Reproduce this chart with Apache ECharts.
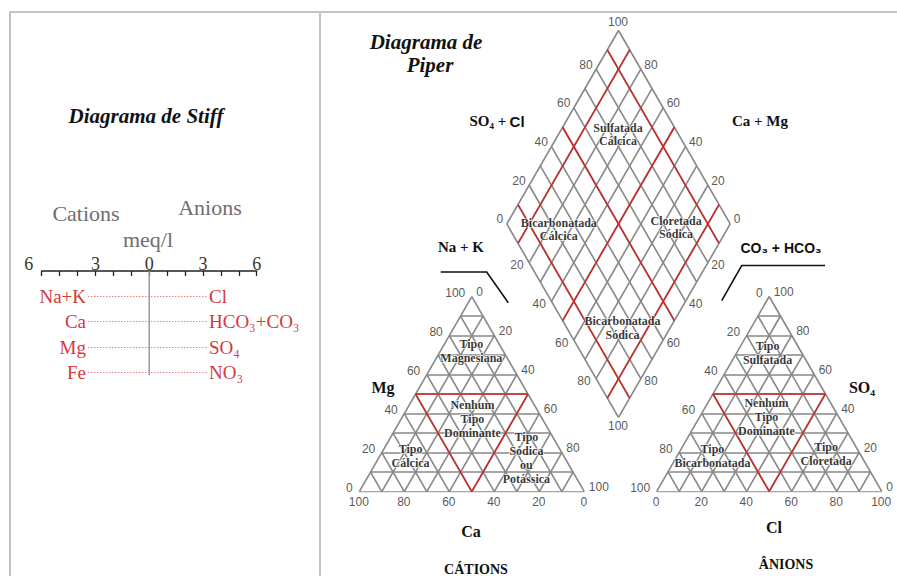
<!DOCTYPE html>
<html><head><meta charset="utf-8">
<script src="https://cdn.jsdelivr.net/npm/echarts@6/dist/echarts.min.js"></script>
<style>html,body{margin:0;padding:0;background:#fff}#c{width:897px;height:576px}</style>
</head><body><div id="c"></div>
<script>
// ---------- DATA ----------
const stiffScaleMax = 6;          // meq/l on each side
const stiffTickStep = 1;
const stiffLabelStep = 3;
const stiffCenter = 0;
const cations = ['Na+K', 'Ca', 'Mg', 'Fe'];
const anions = ['Cl', 'HCO₃+CO₃', 'SO₄', 'NO₃'];
const percentTicks = [0, 20, 40, 60, 80, 100];
const gridLevels = [0, 10, 20, 30, 40, 50, 60, 70, 80, 90, 100];
const triangleDivisions = [50];
const diamondDivisions = [10, 50, 90];
const cationTypes = ['Tipo\nMagnesiana', 'Nenhum\nTipo\nDominante', 'Tipo\nCálcica', 'Tipo\nSódica\nou\nPotássica'];
const anionTypes = ['Tipo\nSulfatada', 'Nenhum\nTipo\nDominante', 'Tipo\nBicarbonatada', 'Tipo\nCloretada'];
const diamondTypes = ['Sulfatada\nCálcica', 'Bicarbonatada\nCálcica', 'Cloretada\nSódica', 'Bicarbonatada\nSódica'];

// ---------- LAYOUT (label anchor positions in ternary %) ----------
const cationTypePos = [[72, 14], [37, 32], [18, 14], [17, 66]];   // [Mg, Na+K]
const anionTypePos = [[71, 14], [38, 30], [18, 16], [19, 66]];    // [SO4, Cl]
const diamondTypePos = [[73, 27], [22, 25], [75, 77], [25, 79]];  // [SO4+Cl, Na+K]

const H = Math.sqrt(3) / 2;
const GRAY = '#878787', RED = '#c62d2a', TXTRED = '#d3393d';
const SERIF = '"Liberation Serif", "Times New Roman", serif';
const SANS = '"Liberation Sans", Arial, sans-serif';

const cat = (mg, nak) => [nak + mg / 2, mg * H];
const an = (so4, cl) => [cl + so4 / 2, so4 * H];
const dia = (a, b) => [(a + b) / 2, (a - b) * H];

function triLines(f, levels) {
  const out = [];
  levels.filter(k => k < 100).forEach(k => {
    out.push({ coords: [f(k, 0), f(k, 100 - k)] });
    out.push({ coords: [f(0, k), f(100 - k, k)] });
    out.push({ coords: [f(0, 100 - k), f(100 - k, 0)] });
  });
  return out;
}
function diaLines(levels) {
  const out = [];
  levels.forEach(k => {
    out.push({ coords: [dia(k, 0), dia(k, 100)] });
    out.push({ coords: [dia(0, k), dia(100, k)] });
  });
  return out;
}
function linesSeries(i, data, color, z) {
  return { type: 'lines', coordinateSystem: 'cartesian2d', xAxisIndex: i, yAxisIndex: i, data,
    silent: true, z, lineStyle: { color, width: 1.6, opacity: 1 } };
}
const tickFont = { fontFamily: SANS, fontSize: 12, color: '#2a2a2a' };
const typeFont = { fontFamily: SERIF, fontSize: 12, fontWeight: 'bold', color: '#000',
  lineHeight: 14, textBorderColor: '#fff', textBorderWidth: 1.5 };
function labelSeries(i, items, font) {
  return { type: 'scatter', xAxisIndex: i, yAxisIndex: i, symbolSize: 1, silent: true, z: 10,
    itemStyle: { color: 'rgba(0,0,0,0)' },
    data: items.map(it => ({ value: it.pos, name: String(it.text),
      label: Object.assign({ show: true, formatter: '{b}', position: it.off, align: it.align,
        verticalAlign: 'middle' }, font) })) };
}

// tick labels
const catTicks = [].concat(
  percentTicks.map(v => ({ pos: cat(v, 0), text: v, off: [-6, -3], align: 'right' })),
  percentTicks.map(v => ({ pos: cat(100 - v, v), text: v, off: [5, -4], align: 'left' })),
  percentTicks.map(v => ({ pos: cat(0, 100 - v), text: v, off: [0, 11], align: 'center' }))
);
const anTicks = [].concat(
  percentTicks.map(v => ({ pos: an(100 - v, 0), text: v, off: [-6, -3], align: 'right' })),
  percentTicks.map(v => ({ pos: an(v, 100 - v), text: v, off: [5, -4], align: 'left' })),
  percentTicks.map(v => ({ pos: an(0, v), text: v, off: [0, 11], align: 'center' }))
);
const diaTicks = [].concat(
  percentTicks.map(v => v === 100 ? { pos: dia(v, 0), text: v, off: [0, -8], align: 'center' }
                                   : { pos: dia(v, 0), text: v, off: [-3, -4], align: 'right' }),
  percentTicks.filter(v => v < 100).map(v => ({ pos: dia(100, 100 - v), text: v, off: [4, -4], align: 'left' })),
  percentTicks.filter(v => v > 0).map(v => v === 100 ? { pos: dia(0, v), text: v, off: [0, 9], align: 'center' }
                                   : { pos: dia(0, v), text: v, off: [-5, 3], align: 'right' }),
  percentTicks.filter(v => v > 0 && v < 100).map(v => ({ pos: dia(100 - v, 100), text: v, off: [4, 3], align: 'left' }))
);
const catTypeItems = cationTypes.map((t, i) => ({ pos: cat(cationTypePos[i][0], cationTypePos[i][1]), text: t, off: [0, 0], align: 'center' }));
const anTypeItems = anionTypes.map((t, i) => ({ pos: an(anionTypePos[i][0], anionTypePos[i][1]), text: t, off: [0, 0], align: 'center' }));
const diaTypeItems = diamondTypes.map((t, i) => ({ pos: dia(diamondTypePos[i][0], diamondTypePos[i][1]), text: t, off: [0, 0], align: 'center' }));

function txt(text, x, y, font, fill, extra) {
  return { type: 'text', silent: true, z: 20, style: Object.assign({ text, x, y, font, fill: fill || '#111',
    align: 'center', verticalAlign: 'middle' }, extra || {}) };
}
const boldSerif = s => 'bold ' + s + 'px ' + SERIF;

const chart = echarts.init(document.getElementById('c'), null, { renderer: 'svg' });
chart.setOption({
  animation: false,
  backgroundColor: '#fff',
  grid: [
    { left: 41.7, top: 271, width: 215, height: 104 },
    { left: 88, top: 296, width: 119, height: 76.7 },
    { left: 359.3, top: 296.7, width: 225, height: 194.86 },
    { left: 656.7, top: 296.5, width: 225, height: 194.86 },
    { left: 506.8, top: 30.5, width: 223.4, height: 386.9 }
  ],
  xAxis: [
    { gridIndex: 0, type: 'value', position: 'top', min: -stiffScaleMax, max: stiffScaleMax, interval: stiffTickStep,
      axisLine: { show: true, onZero: false, lineStyle: { color: '#222', width: 1.5 } },
      axisTick: { show: true, inside: true, length: 5, lineStyle: { color: '#222', width: 1.3 } },
      splitLine: { show: false },
      axisLabel: { margin: -2, fontFamily: SERIF, fontSize: 18, color: '#333',
        formatter: v => v === -stiffScaleMax ? '{m|' + stiffScaleMax + '}' : (v % stiffLabelStep === 0 ? String(Math.abs(v)) : ''),
        rich: { m: { fontFamily: SERIF, fontSize: 18, color: '#333', padding: [0, 26, 0, 0] } } } },
    { gridIndex: 1, type: 'value', min: 0, max: 1, show: false },
    { gridIndex: 2, type: 'value', min: 0, max: 100, show: false },
    { gridIndex: 3, type: 'value', min: 0, max: 100, show: false },
    { gridIndex: 4, type: 'value', min: 0, max: 100, show: false }
  ],
  yAxis: [
    { gridIndex: 0, type: 'value', min: 0, max: 1, show: false },
    { gridIndex: 1, type: 'category', data: cations, inverse: true, boundaryGap: false, position: 'left',
      axisLine: { show: false }, axisTick: { show: false },
      axisLabel: { margin: 2, fontFamily: SERIF, fontSize: 19, color: TXTRED },
      splitLine: { show: true, lineStyle: { type: [1.5, 1.5], color: '#e08585', width: 1 } } },
    { gridIndex: 2, type: 'value', min: 0, max: 100 * H, show: false },
    { gridIndex: 3, type: 'value', min: 0, max: 100 * H, show: false },
    { gridIndex: 4, type: 'value', min: -100 * H, max: 100 * H, show: false },
    { gridIndex: 1, type: 'category', data: anions, inverse: true, boundaryGap: false, position: 'right',
      axisLine: { show: false }, axisTick: { show: false },
      axisLabel: { margin: 2, fontFamily: SERIF, fontSize: 19, color: TXTRED },
      splitLine: { show: false } }
  ],
  series: [
    { type: 'line', xAxisIndex: 0, yAxisIndex: 0, data: [[stiffCenter, 0], [stiffCenter, 1]], symbol: 'none',
      silent: true, lineStyle: { color: '#9a9a9a', width: 1.5 } },
    // cation triangle
    linesSeries(2, triLines(cat, gridLevels), GRAY, 2),
    linesSeries(2, triLines(cat, triangleDivisions), RED, 3),
    labelSeries(2, catTicks, tickFont),
    labelSeries(2, catTypeItems, typeFont),
    // anion triangle
    linesSeries(3, triLines(an, gridLevels), GRAY, 2),
    linesSeries(3, triLines(an, triangleDivisions), RED, 3),
    labelSeries(3, anTicks, tickFont),
    labelSeries(3, anTypeItems, typeFont),
    // diamond
    linesSeries(4, diaLines(gridLevels), GRAY, 2),
    linesSeries(4, diaLines(diamondDivisions), RED, 3),
    labelSeries(4, diaTicks, tickFont),
    labelSeries(4, diaTypeItems, Object.assign({}, typeFont, { lineHeight: 13.5 }))
  ],
  graphic: [
    { type: 'polyline', silent: true, shape: { points: [[10, 576], [10, 12], [897, 12]] }, style: { stroke: '#c2c2c2', lineWidth: 2, fill: null } },
    { type: 'line', silent: true, shape: { x1: 320, y1: 12, x2: 320, y2: 576 }, style: { stroke: '#c2c2c2', lineWidth: 2 } },
    { type: 'polyline', silent: true, shape: { points: [[440.7, 272], [486.7, 272], [508.3, 302.7]] }, style: { stroke: '#111', lineWidth: 1.6, fill: null } },
    { type: 'polyline', silent: true, shape: { points: [[721.7, 300.7], [741.7, 265.5], [825, 265.5]] }, style: { stroke: '#111', lineWidth: 1.6, fill: null } },
    txt('Diagrama de Stiff', 146, 116, 'italic bold 21px ' + SERIF),
    txt('Cations', 86, 213, '22px ' + SERIF, '#6e6e6e'),
    txt('Anions', 210, 207, '22px ' + SERIF, '#6e6e6e'),
    txt('meq/l', 148, 239, '22px ' + SERIF, '#6e6e6e'),
    txt('Diagrama de', 426, 42, 'italic bold 21px ' + SERIF),
    txt('Piper', 430, 65, 'italic bold 21px ' + SERIF),
    { type: 'text', silent: true, z: 20, style: { x: 497, y: 121, align: 'center', verticalAlign: 'middle',
      text: '{a|SO₄ +} {b|Cl}', rich: { a: { fontFamily: SERIF, fontWeight: 'bold', fontSize: 15, fill: '#111' },
      b: { fontFamily: SANS, fontWeight: 'bold', fontSize: 15, fill: '#111' } } } },
    txt('Ca + Mg', 760, 121, boldSerif(15)),
    txt('Na + K', 461, 247, boldSerif(15)),
    txt('CO₃ + HCO₃', 781, 248, 'bold 14px ' + SANS),
    txt('Mg', 383, 387, boldSerif(16)),
    txt('SO₄', 862, 387, boldSerif(16)),
    txt('Ca', 471, 531, boldSerif(16)),
    txt('Cl', 774, 527, boldSerif(16)),
    txt('CÁTIONS', 476, 569, boldSerif(14)),
    txt('ÂNIONS', 786, 564, boldSerif(14))
  ]
});
</script></body></html>
